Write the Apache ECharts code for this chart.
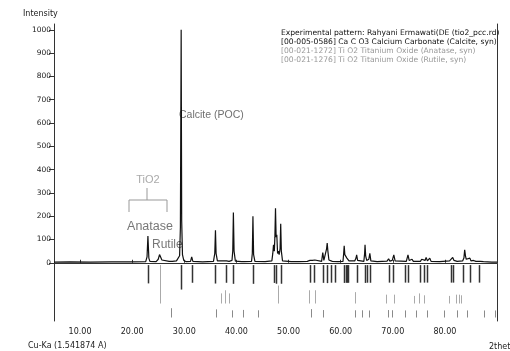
<!DOCTYPE html>
<html>
<head>
<meta charset="utf-8">
<script src="https://cdn.jsdelivr.net/npm/echarts@6/dist/echarts.min.js"></script>
<style>
  html, body { margin: 0; padding: 0; background: #fff; }
  #chart { width: 510px; height: 351px; }
</style>
</head>
<body>
<div id="chart"></div>
<script>
// measured pattern: [2theta, counts]
const pattern = [
  [5.0, 3], [8, 4], [12, 3], [16, 4], [20, 4], [22.6, 5],
  [22.85, 25], [23.02, 115], [23.2, 20], [23.4, 6],
  [24.6, 5], [25.0, 15], [25.25, 35], [25.45, 30], [25.7, 12], [26.0, 5],
  [27.1, 6], [27.4, 12], [27.7, 6],
  [28.5, 8], [29.1, 30], [29.25, 150], [29.4, 1000], [29.5, 180], [29.65, 35], [29.9, 10], [30.3, 5],
  [31.2, 6], [31.42, 25], [31.65, 6],
  [33.5, 4], [35.6, 6], [35.85, 40], [35.98, 139], [36.1, 40], [36.35, 8],
  [37.5, 8], [37.8, 14], [38.1, 8], [38.6, 6],
  [39.15, 10], [39.3, 50], [39.42, 216], [39.55, 50], [39.8, 7],
  [41.0, 5], [41.25, 8], [41.5, 5],
  [42.9, 6], [43.05, 40], [43.17, 200], [43.3, 35], [43.55, 6],
  [45.5, 5],
  [46.8, 8], [46.98, 40], [47.12, 77], [47.28, 50], [47.38, 110], [47.5, 234], [47.62, 110], [47.75, 120],
  [47.9, 40], [48.05, 50], [48.2, 35], [48.38, 60], [48.5, 167], [48.62, 50], [48.85, 8],
  [50.5, 5], [52, 5],
  [53.6, 6], [53.9, 12], [54.1, 10], [54.35, 15], [54.6, 10], [55.05, 12], [55.4, 5],
  [56.35, 6], [56.57, 44], [56.78, 10], [57.15, 12], [57.3, 60], [57.42, 85], [57.55, 50], [57.75, 12], [58.1, 16], [58.4, 6],
  [59.5, 5],
  [60.45, 6], [60.58, 40], [60.68, 73], [60.8, 35], [61.0, 38], [61.2, 20], [61.4, 27], [61.6, 8],
  [62.7, 8], [62.95, 20], [63.07, 34], [63.25, 10], [63.6, 6],
  [64.45, 6], [64.6, 40], [64.68, 77], [64.8, 30], [65.0, 10], [65.4, 15], [65.6, 40], [65.8, 8],
  [67, 5],
  [68.9, 7], [69.2, 17], [69.45, 7], [69.9, 10], [70.2, 34], [70.45, 8],
  [72.6, 6], [72.92, 34], [73.15, 10], [73.5, 8], [73.7, 15], [73.95, 6],
  [75.3, 6], [75.55, 15], [75.8, 7], [76.2, 10], [76.4, 23], [76.65, 8], [77.1, 20], [77.35, 6],
  [79, 5],
  [80.9, 8], [81.2, 15], [81.5, 23], [81.75, 10], [82.1, 12], [82.35, 6],
  [83.4, 8], [83.65, 20], [83.8, 56], [83.95, 30], [84.1, 15], [84.35, 8], [84.8, 20], [85.0, 8],
  [85.5, 10], [85.7, 15], [85.95, 6],
  [86.8, 6], [87.1, 8], [87.4, 5], [89, 3], [90, 3]
]

// reference sticks: [2theta, relative intensity %]
const calciteSticks = [
  [23.06, 12], [29.41, 100], [31.44, 3], [35.97, 14], [37.95, 3], [39.42, 18], [43.17, 18],
  [47.12, 5], [47.51, 17], [48.52, 17], [54.2, 2], [54.9, 2], [56.57, 4], [57.41, 8], [58.09, 2],
  [59.0, 1], [60.68, 5], [60.98, 3], [61.2, 3], [61.4, 3], [63.07, 3], [64.68, 5], [65.1, 2],
  [65.62, 3], [69.22, 1], [70.1, 2], [72.3, 1], [72.94, 2], [75.3, 1], [76.0, 1], [76.6, 1],
  [81.2, 1], [81.5, 1], [83.5, 1], [84.8, 1], [86.5, 1]
]
const anataseSticks = [
  [25.28, 100], [36.95, 10], [37.80, 20], [38.58, 10], [48.05, 35], [53.89, 20], [55.06, 20],
  [62.69, 14], [68.76, 6], [70.31, 6], [74.03, 2], [75.03, 10], [76.02, 4], [80.73, 2],
  [82.14, 6], [82.66, 6], [83.15, 4]
]
const rutileSticks = [
  [27.45, 100], [36.09, 50], [39.19, 8], [41.23, 25], [44.05, 10], [54.32, 60], [56.64, 20],
  [62.74, 10], [64.04, 10], [65.48, 2], [69.0, 20], [69.79, 12], [72.41, 4], [74.41, 2],
  [76.51, 4], [79.82, 2], [82.33, 6], [84.26, 4], [87.46, 2], [89.56, 2]
]

const xTicks = [10, 20, 30, 40, 50, 60, 70, 80]
const yTicks = [0, 100, 200, 300, 400, 500, 600, 700, 800, 900, 1000]

const legendLines = [
  'Experimental pattern: Rahyani Ermawati(DE (tio2_pcc.rd)',
  '[00-005-0586] Ca C O3 Calcium Carbonate (Calcite, syn)',
  '[00-021-1272] Ti O2 Titanium Oxide (Anatase, syn)',
  '[00-021-1276] Ti O2 Titanium Oxide (Rutile, syn)'
]

const chart = echarts.init(document.getElementById('chart'))
const font = 'DejaVu Sans'

// stick rows below zero: each row has its own anchor and length scale
const calciteData = calciteSticks.map(d => [d[0], -10, -10 - (75 + 0.3 * d[1])])
const anataseData = anataseSticks.map(d => [d[0], -175, -175 + (30 + 1.35 * d[1])])
const rutileData = rutileSticks.map(d => [d[0], -235, -235 + (30 + 0.1 * d[1])])

function stick(params, api) {
  const p0 = api.coord([api.value(0), api.value(1)])
  const p1 = api.coord([api.value(0), api.value(2)])
  const x = Math.round(p0[0]) + 0.5
  return {
    type: 'line',
    shape: { x1: x, y1: p0[1], x2: x, y2: p1[1] },
    style: { stroke: api.visual('color'), lineWidth: api.visual('lineWidth') || 1 }
  }
}

function stickSeries(data, color, width) {
  return {
    type: 'custom',
    renderItem: (params, api) => {
      const el = stick(params, api)
      el.style.lineWidth = width
      return el
    },
    data: data,
    encode: { x: 0, y: [1, 2] },
    itemStyle: { color: color },
    silent: true
  }
}

const option = {
  animation: false,
  backgroundColor: '#fff',
  grid: { left: 54, right: 13, top: 24, bottom: 30, outerBoundsMode: 'none' },
  xAxis: [
    {
      type: 'value', min: 5, max: 90, position: 'bottom',
      axisLine: { lineStyle: { color: '#333' } },
      axisTick: { customValues: xTicks, inside: true, length: 3, lineStyle: { color: '#333' } },
      axisLabel: {
        customValues: xTicks, formatter: v => v.toFixed(2),
        fontSize: 8, fontFamily: font, color: '#222', margin: 7
      },
      splitLine: { show: false }
    },
    {
      type: 'value', min: 5, max: 90, position: 'top',
      axisLine: { lineStyle: { color: '#666', type: [1, 1] } },
      axisTick: { show: false }, axisLabel: { show: false }, splitLine: { show: false }
    }
  ],
  yAxis: [
    {
      type: 'value', min: -250, max: 1025,
      axisLine: { show: true, lineStyle: { color: '#333' } },
      axisTick: { show: true, customValues: yTicks, length: 5, lineStyle: { color: '#333' } },
      axisLabel: {
        customValues: yTicks, formatter: v => String(v),
        fontSize: 7.5, fontFamily: font, color: '#222', margin: 3
      },
      splitLine: { show: false }
    },
    {
      type: 'value', min: -250, max: 1025, position: 'right',
      axisLine: { show: true, lineStyle: { color: '#333' } },
      axisTick: { show: false }, axisLabel: { show: false }, splitLine: { show: false }
    }
  ],
  series: [
    {
      type: 'line',
      data: pattern,
      showSymbol: false,
      symbol: 'none',
      lineStyle: { color: '#111', width: 1.2 },
      silent: true,
      markLine: {
        silent: true, symbol: 'none', label: { show: false },
        lineStyle: { color: '#333', type: 'solid', width: 1 },
        data: [{ yAxis: 0 }]
      }
    },
    stickSeries(calciteData, '#333', 1.5),
    stickSeries(anataseData, '#aaaaaa', 1),
    stickSeries(rutileData, '#8a8a8a', 1)
  ],
  graphic: [
    { type: 'text', x: 23, y: 14, style: { text: 'Intensity', font: '8px ' + font, fill: '#222', verticalAlign: 'middle' } },
    { type: 'text', x: 28, y: 346, style: { text: 'Cu-Ka (1.541874 A)', font: '8px ' + font, fill: '#222', verticalAlign: 'middle' } },
    { type: 'text', x: 489, y: 347, style: { text: '2theta', font: '8px ' + font, fill: '#222', verticalAlign: 'middle' } },
    ...legendLines.map((t, i) => ({
      type: 'text', x: 281, y: 33 + i * 9,
      style: { text: t, font: '7.6px ' + font, fill: i < 2 ? '#111' : '#999', verticalAlign: 'middle' }
    })),
    { type: 'text', x: 179, y: 115, style: { text: 'Calcite (POC)', font: '10.5px Liberation Sans', fill: '#707070', verticalAlign: 'middle' } },
    { type: 'text', x: 148, y: 180, style: { text: 'TiO2', font: '11px Liberation Sans', fill: '#aaa', align: 'center', verticalAlign: 'middle' } },
    { type: 'polyline', shape: { points: [[147, 188], [147, 200]] }, style: { stroke: '#999', lineWidth: 1 } },
    { type: 'polyline', shape: { points: [[129, 212], [129, 200], [167, 200], [167, 212]] }, style: { stroke: '#999', fill: null, lineWidth: 1 } },
    { type: 'text', x: 150, y: 227, style: { text: 'Anatase', font: '12.5px Liberation Sans', fill: '#777', align: 'center', verticalAlign: 'middle' } },
    { type: 'text', x: 152, y: 245, style: { text: 'Rutile', font: '12px Liberation Sans', fill: '#777', verticalAlign: 'middle' } }
  ]
}

chart.setOption(option)
</script>
</body>
</html>
